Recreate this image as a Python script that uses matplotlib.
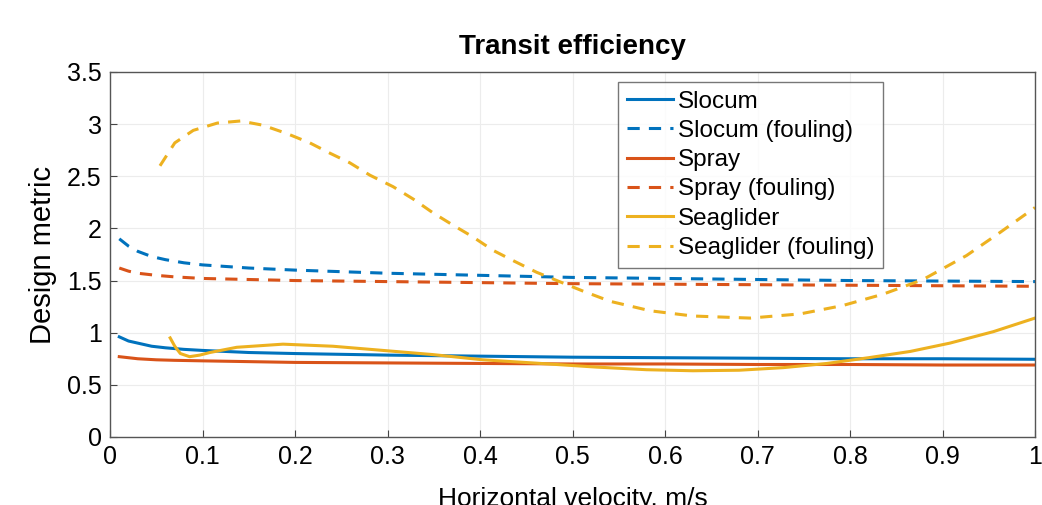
import numpy as np
import matplotlib
matplotlib.use('Agg')
import matplotlib.pyplot as plt

plt.rcParams['font.family'] = ['Liberation Sans', 'DejaVu Sans']

# values
slocum_x = [0.01, 0.02, 0.03, 0.045, 0.06, 0.08, 0.1, 0.15, 0.2, 0.3, 0.4, 0.5, 0.6, 0.7, 0.8, 0.9, 1.0]
slocum_y = [0.96, 0.92, 0.90, 0.87, 0.855, 0.84, 0.83, 0.81, 0.80, 0.785, 0.775, 0.765, 0.76, 0.755, 0.75, 0.75, 0.745]

slocum_f_x = [0.01, 0.02, 0.03, 0.045, 0.06, 0.08, 0.1, 0.15, 0.2, 0.3, 0.4, 0.5, 0.6, 0.7, 0.8, 0.9, 1.0]
slocum_f_y = [1.90, 1.83, 1.78, 1.73, 1.70, 1.67, 1.65, 1.62, 1.60, 1.57, 1.55, 1.53, 1.52, 1.51, 1.50, 1.495, 1.49]

spray_x = [0.01, 0.02, 0.03, 0.05, 0.07, 0.1, 0.2, 0.3, 0.4, 0.5, 0.6, 0.7, 0.8, 0.9, 1.0]
spray_y = [0.77, 0.76, 0.75, 0.74, 0.735, 0.73, 0.715, 0.71, 0.705, 0.70, 0.70, 0.695, 0.695, 0.69, 0.69]

spray_f_x = [0.01, 0.02, 0.03, 0.05, 0.07, 0.1, 0.2, 0.3, 0.4, 0.5, 0.6, 0.7, 0.8, 0.9, 1.0]
spray_f_y = [1.62, 1.59, 1.57, 1.55, 1.535, 1.52, 1.50, 1.49, 1.48, 1.47, 1.465, 1.46, 1.455, 1.45, 1.445]

seag_x = [0.065, 0.07, 0.076, 0.086, 0.097, 0.108, 0.137, 0.187, 0.241, 0.295, 0.349,
          0.403, 0.457, 0.526, 0.58, 0.63, 0.68, 0.728, 0.775, 0.82, 0.865, 0.908, 0.955, 1.0]
seag_y = [0.95, 0.87, 0.80, 0.77, 0.785, 0.81, 0.86, 0.89, 0.87, 0.83, 0.79,
          0.74, 0.71, 0.67, 0.645, 0.635, 0.64, 0.665, 0.705, 0.76, 0.82, 0.90, 1.01, 1.14]

seag_f_x = [0.054, 0.07, 0.09, 0.116, 0.141, 0.165, 0.191, 0.216, 0.238, 0.259, 0.281, 0.306,
            0.328, 0.349, 0.371, 0.392, 0.414, 0.436, 0.461, 0.483, 0.511, 0.541, 0.584, 0.63,
            0.692, 0.746, 0.792, 0.836, 0.879, 0.926, 0.962, 1.0]
seag_f_y = [2.60, 2.82, 2.94, 3.01, 3.03, 2.99, 2.91, 2.82, 2.72, 2.63, 2.51, 2.40,
            2.28, 2.15, 2.03, 1.92, 1.79, 1.69, 1.58, 1.50, 1.40, 1.30, 1.21, 1.16,
            1.14, 1.18, 1.26, 1.37, 1.51, 1.74, 1.96, 2.20]

blue = '#0072BD'
red = '#D95319'
yellow = '#EDB120'

fig = plt.figure(figsize=(10.42, 5.05), dpi=100)
ax = fig.add_axes([0.1056, 0.1347, 0.8877, 0.7228])

lw = 2.2
dash = (0, (4, 3))
ax.plot(slocum_x, slocum_y, color=blue, lw=lw, label='Slocum')
ax.plot(slocum_f_x, slocum_f_y, color=blue, lw=lw, ls=dash, label='Slocum (fouling)')
ax.plot(spray_x, spray_y, color=red, lw=lw, label='Spray')
ax.plot(spray_f_x, spray_f_y, color=red, lw=lw, ls=dash, label='Spray (fouling)')
ax.plot(seag_x, seag_y, color=yellow, lw=lw, label='Seaglider')
ax.plot(seag_f_x, seag_f_y, color=yellow, lw=lw, ls=dash, label='Seaglider (fouling)')

ax.set_xlim(0, 1)
ax.set_ylim(0, 3.5)
ax.set_xticks(np.arange(0, 1.01, 0.1))
ax.set_xticklabels(['0', '0.1', '0.2', '0.3', '0.4', '0.5', '0.6', '0.7', '0.8', '0.9', '1'])
ax.set_yticks(np.arange(0, 3.51, 0.5))
ax.set_yticklabels(['0', '0.5', '1', '1.5', '2', '2.5', '3', '3.5'])
ax.tick_params(labelsize=18, direction='in', length=5, color='#444444', pad=6)
ax.grid(True, color='#ececec', lw=0.8)
for s in ax.spines.values():
    s.set_color('#555555')
    s.set_linewidth(1.0)

ax.set_title('Transit efficiency', fontsize=20, fontweight='bold', pad=13)
ax.set_ylabel('Design metric', fontsize=21, labelpad=7)
ax.set_xlabel('Horizontal velocity, m/s', fontsize=19, labelpad=13)

ax.legend(loc='upper left', bbox_to_anchor=(618 / 1042, 1 - 82 / 505),
          bbox_transform=fig.transFigure, fontsize=17.5, frameon=True,
          fancybox=False, edgecolor='#555555', handlelength=1.9,
          handletextpad=0.2, labelspacing=0.3, borderpad=0.35,
          borderaxespad=0)

fig.savefig('out.png', dpi=100)
